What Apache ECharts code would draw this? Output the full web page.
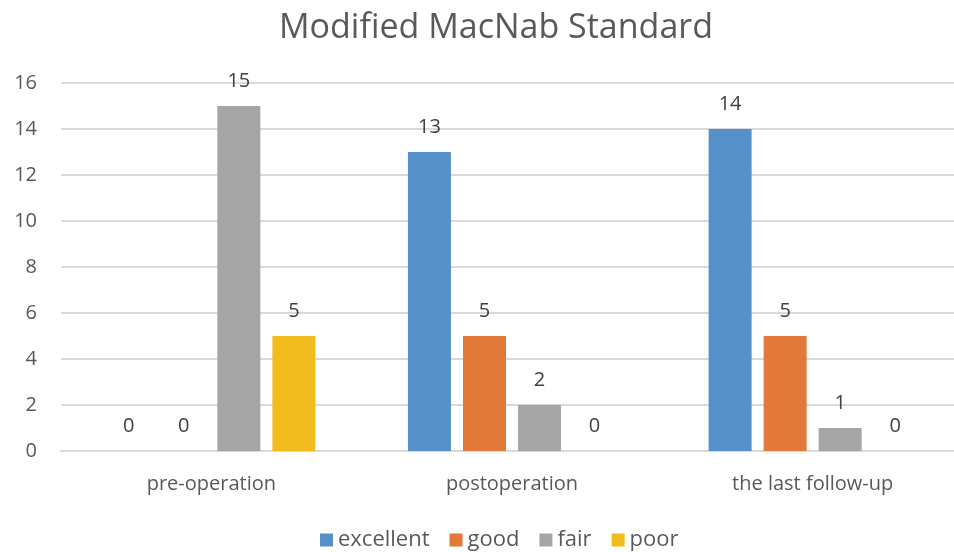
<!DOCTYPE html>
<html>
<head>
<meta charset="utf-8">
<script src="https://cdn.jsdelivr.net/npm/echarts@6/dist/echarts.min.js"></script>
<style>
  html, body { margin: 0; padding: 0; background: #fff; }
  #chart { width: 954px; height: 552px; }
</style>
</head>
<body>
<div id="chart"></div>
<script>
  const categories = ["pre-operation", "postoperation", "the last follow-up"];
  const seriesNames = ["excellent", "good", "fair", "poor"];
  const excellent = [0, 13, 14];
  const good = [0, 5, 5];
  const fair = [15, 2, 1];
  const poor = [5, 0, 0];
  const colors = ["#5591C8", "#E0793A", "#A5A5A5", "#F2BC1E"];

  const font = "Open Sans";
  const values = [excellent, good, fair, poor];

  const series = seriesNames.map((name, i) => ({
    name: name,
    type: "bar",
    data: values[i],
    barWidth: 43,
    barGap: "28%",
    itemStyle: { color: colors[i] },
    label: {
      show: true,
      position: "top",
      distance: 15,
      color: "#404040",
      fontFamily: font,
      fontSize: 20,
    },
  }));

  const chart = echarts.init(document.getElementById("chart"));
  chart.setOption({
    animation: false,
    color: colors,
    title: {
      text: "Modified MacNab Standard",
      left: 491,
      textAlign: "center",
      top: 6,
      textStyle: {
        fontFamily: font,
        fontWeight: "normal",
        fontSize: 34,
        color: "#595959",
      },
    },
    legend: {
      top: 524,
      left: 315,
      itemWidth: 13,
      itemHeight: 13,
      itemGap: 20,
      icon: "rect",
      textStyle: { fontFamily: font, fontSize: 22, color: "#595959" },
    },
    grid: { left: 61, top: 83, width: 902, height: 368, outerBoundsMode: "none" },
    xAxis: {
      type: "category",
      data: categories,
      axisLine: { lineStyle: { color: "#D9D9D9", width: 2 } },
      axisTick: { show: false },
      axisLabel: { margin: 23, fontFamily: font, fontSize: 20, color: "#595959" },
    },
    yAxis: {
      type: "value",
      min: 0,
      max: 16,
      interval: 2,
      axisLine: { show: false },
      axisTick: { show: false },
      splitLine: { lineStyle: { color: "#D9D9D9", width: 2 } },
      axisLabel: { margin: 24, fontFamily: font, fontSize: 20, color: "#595959" },
    },
    series: series,
  });
</script>
</body>
</html>
